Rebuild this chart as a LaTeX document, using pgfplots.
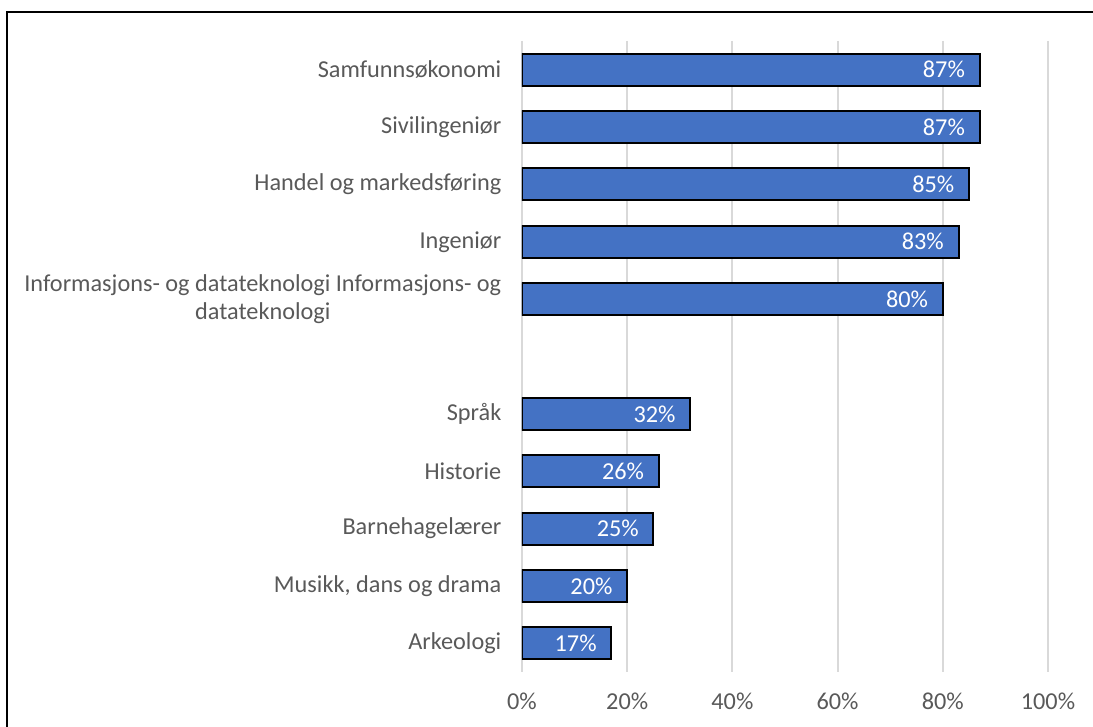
\documentclass[border=0pt]{standalone}
\usepackage{pgfplots}
\pgfplotsset{compat=1.18}
\usepackage{fontspec}
\setmainfont{Carlito}

\definecolor{barblue}{HTML}{4472C4}
\definecolor{txtgray}{HTML}{595959}
\definecolor{gridgray}{HTML}{D9D9D9}

% 1 px of the reference = 0.75pt, picture 1093x727 px
\begin{document}
\begin{tikzpicture}
\clip (0pt,0pt) rectangle (819.75pt,545.25pt);
% outer frame, runs off the right and bottom edge
\draw[black, line width=1.5pt] (5.25pt,536.25pt) rectangle (835pt,-15pt);

\begin{axis}[
    at={(391.5pt,41.25pt)}, anchor=south west,
    scale only axis,
    width=394.5pt, height=473.25pt,
    xbar, bar width=24pt,
    xmin=0, xmax=100,
    ymin=-0.5, ymax=10.5,
    y dir=reverse,
    axis line style={draw=none},
    xtick={0,20,...,100},
    ytick={0,1,2,3,4,6,7,8,9,10},
    yticklabels={Samfunnsøkonomi, Sivilingeniør, Handel og markedsføring, Ingeniør,
        {Informasjons- og datateknologi Informasjons- og\\datateknologi},
        Språk, Historie, Barnehagelærer, {Musikk, dans og drama}, Arkeologi},
    xticklabel={\pgfmathprintnumber{\tick}\%},
    /pgf/number format/assume math mode=true,
    tick style={draw=none},
    major tick length=0pt,
    xmajorgrids,
    grid style={gridgray, line width=1.5pt},
    ticklabel style={font=\fontsize{18.2}{21}\selectfont, text=txtgray},
    yticklabel style={align=center, xshift=-12pt},
    xticklabel style={yshift=-12pt},
    point meta=x,
    nodes near coords={\pgfmathprintnumber{\pgfplotspointmeta}\%},
    every node near coord/.append style={anchor=east, xshift=-7pt, text=white,
        font=\fontsize{18.2}{21}\selectfont},
]
\addplot[fill=barblue, draw=black, line width=1.5pt] coordinates {
    (87,0) (87,1) (85,2) (83,3) (80,4)
    (32,6) (26,7) (25,8) (20,9) (17,10)
};
\end{axis}
\end{tikzpicture}
\end{document}
